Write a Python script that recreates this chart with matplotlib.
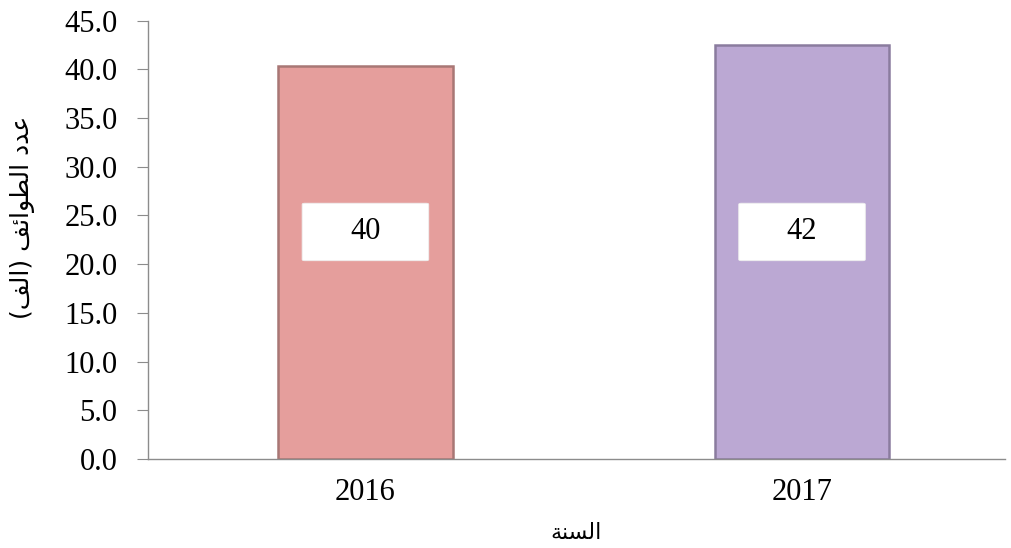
"""
Bar chart: number of sects (thousands) per year, 2016 vs 2017.
Arabic labels are written with presentation forms and reversed for LTR drawing.
"""
import matplotlib.pyplot as plt
from matplotlib.patches import FancyBboxPatch

years = ["2016", "2017"]
values = [40.3, 42.5]
labels = ["40", "42"]
bar_colors = ["#E59E9C", "#BBA8D3"]
edge_colors = ["#A87775", "#8A7C9E"]

# logical order, already in contextual (presentation) forms
Y_LABEL = "\uFECB\uFEAA\uFEA9 \uFE8D\uFEDF\uFEC4\uFEEE\uFE8D\uFE8B\uFED2 (\uFE8D\uFEDF\uFED2)"
X_LABEL = "\uFE8D\uFEDF\uFEB4\uFEE8\uFE94"

def visual(s):
    # reverse for left-to-right drawing and mirror the brackets
    return s[::-1].translate(str.maketrans("()", ")("))

SERIF = ["Liberation Serif", "DejaVu Serif"]
AR = ["DejaVu Sans"]

fig = plt.figure(figsize=(10.11, 5.48), dpi=100)
ax = fig.add_axes([0.1464, 0.1625, 0.8477, 0.8000])

x = list(range(len(years)))
ax.bar(x, values, width=0.40, color=bar_colors, edgecolor=edge_colors, linewidth=1.8, zorder=2)

# white value boxes in the middle of each bar
box_w, box_h, box_y = 0.29, 5.9, 23.3
for xi, lab in zip(x, labels):
    ax.add_patch(FancyBboxPatch((xi - box_w / 2, box_y - box_h / 2), box_w, box_h,
                                boxstyle="round,pad=0,rounding_size=0.006", mutation_aspect=20,
                                facecolor="white", edgecolor="#EEEEEE", linewidth=0.6, zorder=3))
    ax.text(xi, box_y, lab, ha="center", va="center", fontsize=22, family=SERIF, zorder=4)

ax.set_xlim(-0.498, 1.465)
ax.set_ylim(0, 45)
ax.set_yticks([i * 5 for i in range(10)])
ax.set_yticklabels([f"{i * 5:.1f}" for i in range(10)], family=SERIF, fontsize=22)
ax.set_xticks(x)
ax.set_xticklabels(years, family=SERIF, fontsize=22)

for side in ("top", "right"):
    ax.spines[side].set_visible(False)
ax.spines["left"].set_color("#8C8C8C")
ax.spines["bottom"].set_color("#8C8C8C")
ax.spines["left"].set_linewidth(1.0)
ax.spines["bottom"].set_linewidth(1.0)
ax.tick_params(axis="y", direction="out", length=8, color="#8C8C8C", pad=14)
ax.tick_params(axis="x", length=0, pad=14)

ax.set_ylabel(visual(Y_LABEL), family=AR, fontsize=18)
ax.yaxis.set_label_coords(-0.132, 0.551)
ax.set_xlabel(visual(X_LABEL), family=AR, fontsize=16, labelpad=11)

fig.savefig("out.png", dpi=100, facecolor="white")
